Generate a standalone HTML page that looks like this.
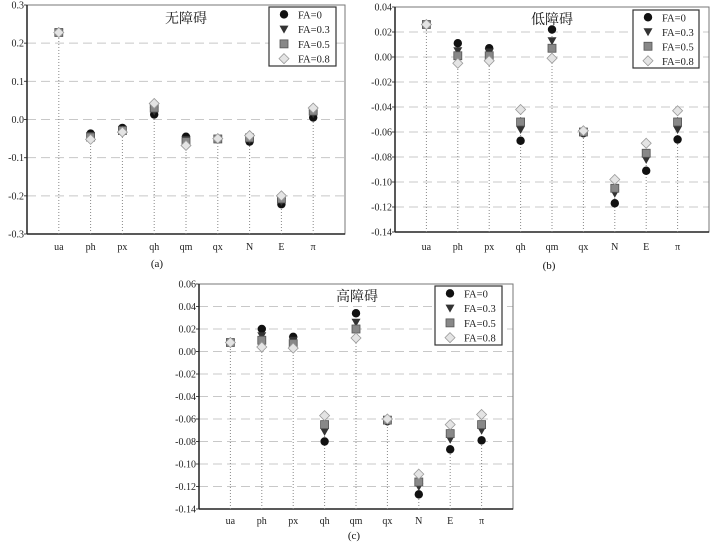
<!DOCTYPE html>
<html><head><meta charset="utf-8"><style>
body{margin:0;background:#fff;}
svg{display:block;font-family:"Liberation Serif","Noto Serif CJK SC",serif;}
</style></head><body>
<svg id="s" width="713" height="542"></svg>
<script>
const categories=["ua","ph","px","qh","qm","qx","N","E","π"];
const seriesNames=["FA=0","FA=0.3","FA=0.5","FA=0.8"];
const titleA="无障碍", titleB="低障碍", titleC="高障碍";
const ticksA=["0.3","0.2","0.1","0.0","-0.1","-0.2","-0.3"];
const ticksB=["0.04","0.02","0.00","-0.02","-0.04","-0.06","-0.08","-0.10","-0.12","-0.14"];
const ticksC=["0.06","0.04","0.02","0.00","-0.02","-0.04","-0.06","-0.08","-0.10","-0.12","-0.14"];
const a_fa0=[0.228,-0.037,-0.022,0.013,-0.045,-0.052,-0.058,-0.222,0.005];
const a_fa3=[0.228,-0.042,-0.026,0.022,-0.052,-0.052,-0.053,-0.215,0.015];
const a_fa5=[0.228,-0.046,-0.029,0.030,-0.058,-0.051,-0.048,-0.208,0.022];
const a_fa8=[0.228,-0.052,-0.033,0.042,-0.068,-0.050,-0.042,-0.200,0.030];
const b_fa0=[0.026,0.011,0.007,-0.067,0.022,-0.061,-0.117,-0.091,-0.066];
const b_fa3=[0.026,0.005,0.004,-0.058,0.013,-0.060,-0.109,-0.082,-0.058];
const b_fa5=[0.026,0.001,0.001,-0.052,0.007,-0.060,-0.105,-0.077,-0.052];
const b_fa8=[0.026,-0.005,-0.003,-0.042,-0.001,-0.059,-0.098,-0.069,-0.043];
const c_fa0=[0.008,0.020,0.013,-0.080,0.034,-0.062,-0.127,-0.087,-0.079];
const c_fa3=[0.008,0.014,0.010,-0.071,0.026,-0.061,-0.120,-0.078,-0.070];
const c_fa5=[0.008,0.010,0.007,-0.065,0.020,-0.061,-0.116,-0.073,-0.065];
const c_fa8=[0.008,0.004,0.003,-0.057,0.012,-0.060,-0.109,-0.065,-0.056];

const S=document.getElementById('s');const NS="http://www.w3.org/2000/svg";
function mk(t,at,par,txt){const e=document.createElementNS(NS,t);for(const k in at)e.setAttribute(k,at[k]);if(txt!==undefined)e.textContent=txt;(par||S).appendChild(e);return e;}

function panel(id,L,R,T,B,ticks,series,title,tx,ty,lg,lab,lx,ly,labY){
  const g=mk('g',{});
  
  
  const ymax=parseFloat(ticks[0]),ymin=parseFloat(ticks[ticks.length-1]);
  const y=v=>T+(ymax-v)/(ymax-ymin)*(B-T);
  const band=(R-L)/(categories.length+1);
  const x=i=>L+(i+1)*band;
  ticks.forEach(t=>{const v=parseFloat(t),yy=y(v);
    if(yy>T+1&&yy<B-1){const gl=mk('line',{x1:L,x2:R,y1:yy,y2:yy,stroke:'#c8c8c8','stroke-width':1,'stroke-dasharray':'9,5'},g);
      }
    const tl=mk('text',{x:L-3,y:yy+3.5,'font-size':10,'text-anchor':'end',fill:'#222'},g,t);
    
    mk('line',{x1:L-3,x2:L,y1:yy,y2:yy,stroke:'#444'},g);
  });
  const fr=mk('rect',{x:L,y:T,width:R-L,height:B-T,fill:'none',stroke:'#777','stroke-width':1},g);
  
  mk('line',{x1:L,x2:L,y1:T,y2:B,stroke:'#222','stroke-width':1.5},g);
  mk('line',{x1:L,x2:R,y1:B,y2:B,stroke:'#222','stroke-width':1.5},g);
  categories.forEach((c,i)=>{
    const top=Math.max(...series.map(s=>s[i]));
    const st=mk('line',{x1:x(i),x2:x(i),y1:B,y2:y(top),stroke:'#888','stroke-width':1,'stroke-dasharray':'1,2'},g);
    
    const cl=mk('text',{x:x(i),y:labY,'font-size':10,'text-anchor':'middle',fill:'#222'},g,c);
    
  });
  function marker(k,cx,cy,par){
    let e;
    if(k===0)e=mk('circle',{cx,cy,r:4.2,fill:'#111'},par);
    else if(k===1)e=mk('path',{d:`M${cx-4.5},${cy-3.5}L${cx+4.5},${cy-3.5}L${cx},${cy+4.5}Z`,fill:'#333'},par);
    else if(k===2)e=mk('rect',{x:cx-4,y:cy-4,width:8,height:8,fill:'#888',stroke:'#555','stroke-width':0.8},par);
    else e=mk('path',{d:`M${cx},${cy-5}L${cx+5},${cy}L${cx},${cy+5}L${cx-5},${cy}Z`,fill:'#e4e4e4',stroke:'#999','stroke-width':0.8},par);
    return e;
  }
  series.forEach((s,k)=>{s.forEach((v,i)=>{
    const m=marker(k,x(i),y(v),g);
    
    
  });});
  const tt=mk('text',{x:tx,y:ty,'font-size':14,'text-anchor':'middle',fill:'#111'},g,title);
  
  const lgG=mk('g',{},g);
  
  mk('rect',{x:lg[0],y:lg[1],width:lg[2]-lg[0],height:lg[3]-lg[1],fill:'#fff',stroke:'#333','stroke-width':1.2},lgG);
  const dy=(lg[3]-lg[1])/4;
  seriesNames.forEach((n,k)=>{
    const yy=lg[1]+dy*(k+0.5);
    const mm=marker(k,lg[0]+15,yy,lgG);
    
    const lt=mk('text',{x:lg[0]+29,y:yy+4,'font-size':10.5,fill:'#222'},lgG,n);
    
  });
  const pl=mk('text',{x:lx,y:ly,'font-size':11,'text-anchor':'middle',fill:'#111'},g,lab);
  
}
panel('a',27,345,5,234,ticksA,[a_fa0,a_fa3,a_fa5,a_fa8],titleA,186,23,[269,7,336,66],'(a)',157,267,250);
panel('b',395,709,7,232,ticksB,[b_fa0,b_fa3,b_fa5,b_fa8],titleB,552,24,[633,10,699,68],'(b)',549,269,250);
panel('c',199,513,284,509,ticksC,[c_fa0,c_fa3,c_fa5,c_fa8],titleC,357,301,[435,286,502,345],'(c)',354,539,524);
</script>
</body></html>
